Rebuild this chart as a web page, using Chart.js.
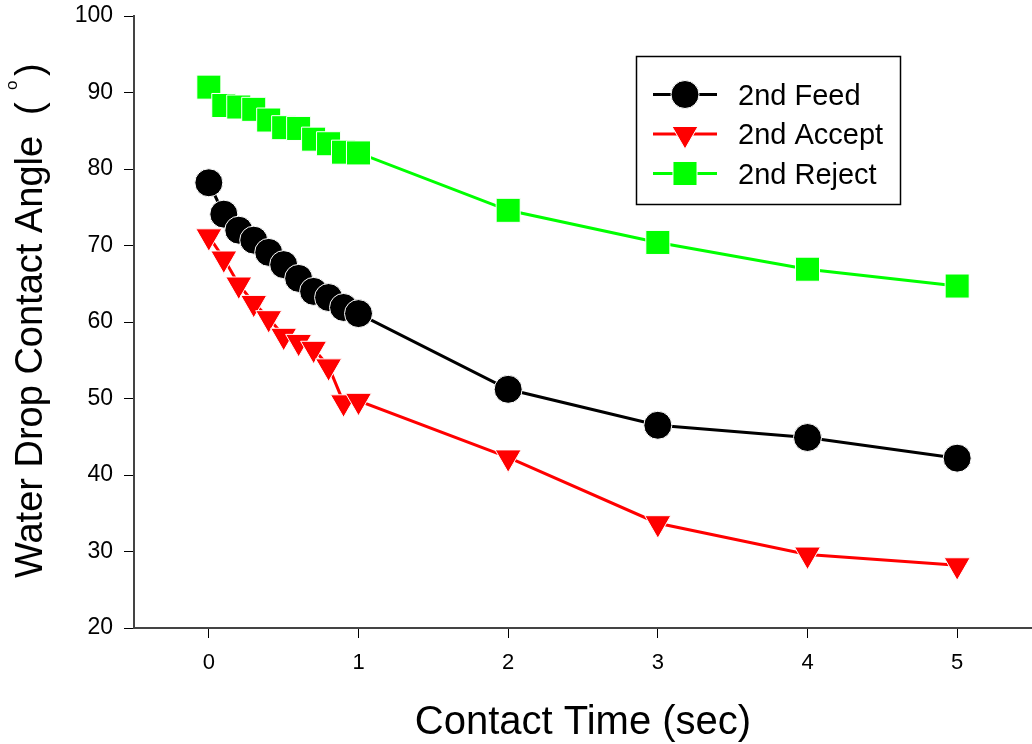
<!DOCTYPE html>
<html>
<head>
<meta charset="utf-8">
<title>Water Drop Contact Angle</title>
<script src="https://cdn.jsdelivr.net/npm/chart.js@4/dist/chart.umd.min.js"></script>
<style>
  html, body { margin: 0; padding: 0; background: #fff; }
  canvas { display: block; }
</style>
</head>
<body>
<canvas id="chart" width="1032" height="744"></canvas>
<script>
// contact time (sec) and measured angles (deg)
const times  = [0, 0.1, 0.2, 0.3, 0.4, 0.5, 0.6, 0.7, 0.8, 0.9, 1, 2, 3, 4, 5];
const feed   = [78.2, 74.1, 72.0, 70.7, 69.1, 67.5, 65.7, 64.0, 63.2, 61.9, 61.1, 51.2, 46.5, 44.9, 42.2];
const accept = [71.2, 68.3, 64.9, 62.5, 60.5, 58.2, 57.4, 56.5, 54.2, 49.5, 49.7, 42.3, 33.7, 29.6, 28.2];
const reject = [90.7, 88.3, 88.1, 87.8, 86.4, 85.4, 85.3, 83.9, 83.3, 82.2, 82.1, 74.6, 70.4, 66.9, 64.7];

const seriesNames = ['2nd Feed', '2nd Accept', '2nd Reject'];
const xTicks = [0, 1, 2, 3, 4, 5];
const yTicks = [20, 30, 40, 50, 60, 70, 80, 90, 100];

const FONT = "'Liberation Sans', Arial, Helvetica, sans-serif";

function series(label, values, color, style, radius, rotation) {
  return {
    label: label,
    data: times.map((t, i) => ({ x: t, y: values[i] })),
    borderColor: color,
    backgroundColor: color,
    borderWidth: 3,
    pointStyle: style,
    pointRadius: radius,
    pointHoverRadius: radius,
    pointRotation: rotation || 0,
    pointBackgroundColor: color,
    pointBorderColor: '#fff',
    pointBorderWidth: 1,
    tension: 0,
    fill: false
  };
}

// pin the plot area: fixed axis sizes, no label overhang padding
function fitAxis(size) {
  return s => {
    if (s.isHorizontal()) s.height = size; else s.width = size;
    s.paddingLeft = s.paddingRight = s.paddingTop = s.paddingBottom = 0;
  };
}

// axis titles (y title has a superscript degree mark)
const axisTitles = {
  id: 'axisTitles',
  afterDraw(chart) {
    const ctx = chart.ctx;
    const area = chart.chartArea;
    ctx.save();
    ctx.fillStyle = '#000';
    ctx.textBaseline = 'alphabetic';
    ctx.textAlign = 'center';
    ctx.font = '40px ' + FONT;
    ctx.fillText('Contact Time (sec)', (area.left + area.right) / 2, 734);

    ctx.translate(42, 578);
    ctx.rotate(-Math.PI / 2);
    ctx.textAlign = 'left';
    ctx.font = '38px ' + FONT;
    const main = 'Water Drop Contact Angle';
    ctx.fillText(main, 0, 0);
    const w = ctx.measureText(main).width;
    ctx.fillText('(', w + 21, 0);
    ctx.fillText(')', w + 60, 0);
    ctx.font = '17px ' + FONT;
    ctx.fillText('o', w + 46, -25);
    ctx.restore();
  }
};

// boxed legend with line + marker samples
const boxLegend = {
  id: 'boxLegend',
  afterDraw(chart) {
    const ctx = chart.ctx;
    ctx.save();
    ctx.strokeStyle = '#000';
    ctx.lineWidth = 1.5;
    ctx.strokeRect(636.5, 56.5, 264, 148);
    chart.data.datasets.forEach((ds, i) => {
      const y = 94.5 + i * 39.5;
      ctx.strokeStyle = ds.borderColor;
      ctx.lineWidth = 3;
      ctx.beginPath();
      ctx.moveTo(653, y);
      ctx.lineTo(717, y);
      ctx.stroke();
      ctx.fillStyle = ds.pointBackgroundColor;
      ctx.strokeStyle = ds.pointBorderColor;
      ctx.lineWidth = ds.pointBorderWidth;
      Chart.helpers.drawPoint(ctx, {
        pointStyle: ds.pointStyle,
        radius: ds.pointRadius,
        rotation: ds.pointRotation,
        borderWidth: ds.pointBorderWidth
      }, 685, y);
      ctx.fillStyle = '#000';
      ctx.font = '29px ' + FONT;
      ctx.textAlign = 'left';
      ctx.textBaseline = 'alphabetic';
      ctx.fillText(ds.label, 738, y + 10);
    });
    ctx.restore();
  }
};

new Chart(document.getElementById('chart'), {
  type: 'line',
  data: {
    datasets: [
      series(seriesNames[0], feed, '#000000', 'circle', 14),
      series(seriesNames[1], accept, '#ff0000', 'triangle', 15, 180),
      series(seriesNames[2], reject, '#00ff00', 'rect', 17)
    ]
  },
  options: {
    responsive: false,
    animation: false,
    events: [],
    layout: { autoPadding: false, padding: { top: 16, left: 0, right: 0, bottom: 0 } },
    plugins: {
      legend: { display: false },
      tooltip: { enabled: false }
    },
    scales: {
      x: {
        type: 'linear',
        min: -0.5,
        max: 5.5,
        afterBuildTicks: s => { s.ticks = xTicks.map(v => ({ value: v })); },
        afterFit: fitAxis(116),
        border: { display: true, color: '#444', width: 2 },
        grid: { display: true, drawOnChartArea: false, drawTicks: true, tickLength: 10, tickColor: '#000', lineWidth: 1 },
        ticks: { color: '#000', font: { family: FONT, size: 22 }, padding: 12, maxRotation: 0 }
      },
      y: {
        type: 'linear',
        min: 20,
        max: 100,
        afterBuildTicks: s => { s.ticks = yTicks.map(v => ({ value: v })); },
        afterFit: fitAxis(134),
        border: { display: true, color: '#444', width: 2 },
        grid: { display: true, drawOnChartArea: false, drawTicks: true, tickLength: 10, tickColor: '#000', lineWidth: 1 },
        ticks: { color: '#000', font: { family: FONT, size: 23 }, padding: 11 }
      }
    }
  },
  plugins: [axisTitles, boxLegend]
});
</script>
</body>
</html>
